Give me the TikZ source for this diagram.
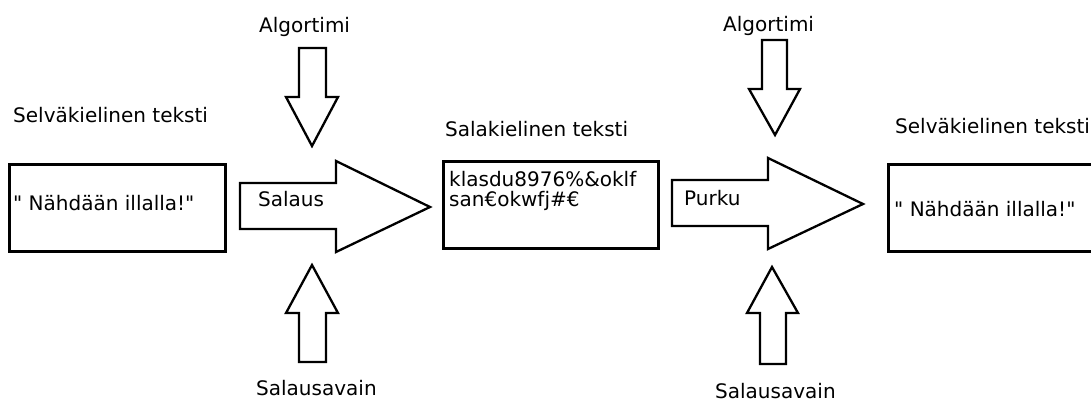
\documentclass[tikz,border=0pt]{standalone}
\usepackage{fontspec}
\setmainfont{DejaVu Sans}[Ligatures=TeXOff]
\begin{document}
\begin{tikzpicture}[x=1pt,y=-1pt,
  font=\fontsize{20}{20}\selectfont,
  lbl/.style={anchor=base west, inner sep=0pt, text=black},
  box/.style={draw, line width=2.8pt, anchor=north west, inner sep=0pt},
  blk/.style={draw, line width=2.3pt, line join=miter, fill=white}]
\useasboundingbox (0,0) rectangle (1091,401);
\clip (0,0) rectangle (1091,401);

% boxes
\node[box, minimum width=216pt, minimum height=87pt] (b1) at (8,163) {};
\node[box, minimum width=215pt, minimum height=87pt] (b2) at (442,160) {};
\node[box, minimum width=260pt, minimum height=87pt] (b3) at (887,163) {};

% headings
\node[lbl] (h1) at (13,122) {Selväkielinen teksti};
\node[lbl] (h2) at (445,136) {Salakielinen teksti};
\node[lbl] (h3) at (895,133) {Selväkielinen teksti};

% box contents
\node[lbl] (t1) at (13,210) {" Nähdään illalla!"};
\node[lbl] (c1) at (449,186) {klasdu8976\%\&oklf};
\node[lbl] (c2) at (449,206) {san€okwfj\#€};
\node[lbl] (t3) at (894,216) {" Nähdään illalla!"};

% horizontal block arrows
\draw[blk] (240,183) -- (336,183) -- (336,161) -- (430,207) -- (336,252) -- (336,229) -- (240,229) -- cycle;
\draw[blk] (672,180) -- (768,180) -- (768,158) -- (863,204) -- (768,249) -- (768,226) -- (672,226) -- cycle;
\node[lbl] (s) at (258,206) {Salaus};
\node[lbl] (p) at (684,205) {Purku};

% vertical block arrows
\draw[blk] (299,48) -- (326,48) -- (326,97) -- (338,97) -- (312,146) -- (286,97) -- (299,97) -- cycle;
\draw[blk] (299,362) -- (326,362) -- (326,313) -- (338,313) -- (312,265) -- (286,313) -- (299,313) -- cycle;
\draw[blk] (762,40) -- (787,40) -- (787,89) -- (800,89) -- (775,135) -- (749,89) -- (762,89) -- cycle;
\draw[blk] (760,364) -- (786,364) -- (786,313) -- (798,313) -- (772,267) -- (747,313) -- (760,313) -- cycle;

\node[lbl] (a1) at (259,33) {Algortimi};
\node[lbl] (a2) at (723,32) {Algortimi};
\node[lbl] (k1) at (256,395) {Salausavain};
\node[lbl] (k2) at (715,398) {Salausavain};
\end{tikzpicture}
\end{document}
